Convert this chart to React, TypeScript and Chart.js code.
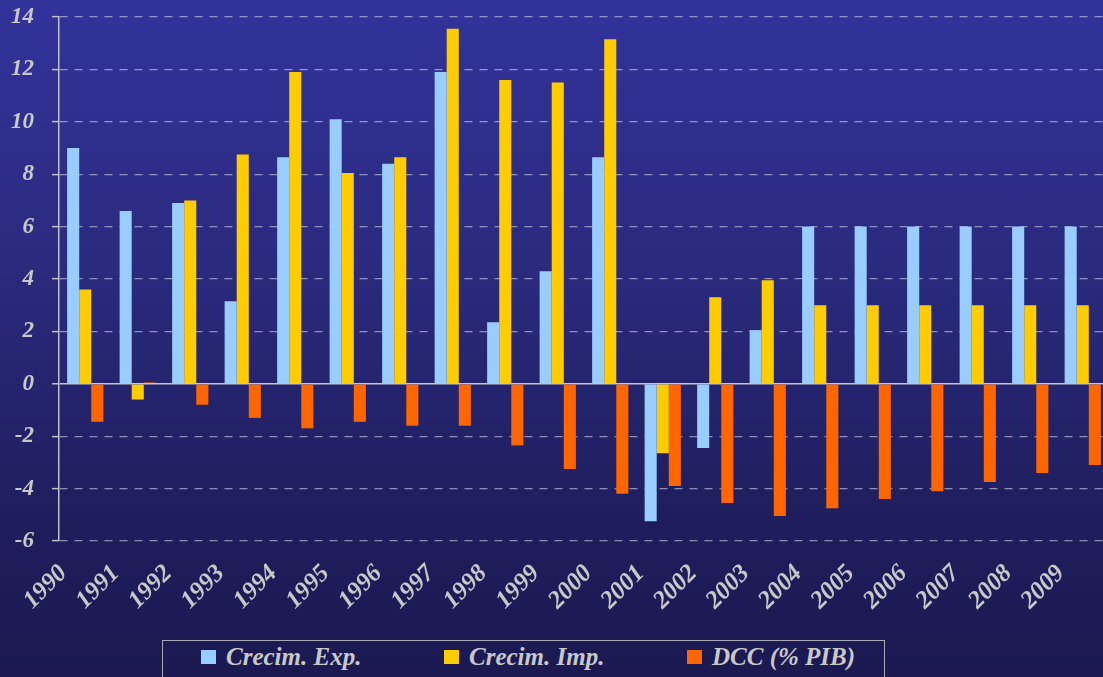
import React, { useEffect, useRef } from "react";
import { Chart, registerables } from "chart.js";

Chart.register(...registerables);

const years = ["1990", "1991", "1992", "1993", "1994", "1995", "1996", "1997", "1998", "1999", "2000", "2001", "2002", "2003", "2004", "2005", "2006", "2007", "2008", "2009"];
const crecimExp = [9.0, 6.6, 6.9, 3.15, 8.65, 10.1, 8.4, 11.9, 2.35, 4.3, 8.65, -5.25, -2.45, 2.05, 6.0, 6.0, 6.0, 6.0, 6.0, 6.0];
const crecimImp = [3.6, -0.6, 7.0, 8.75, 11.9, 8.05, 8.65, 13.55, 11.6, 11.5, 13.15, -2.65, 3.3, 3.95, 3.0, 3.0, 3.0, 3.0, 3.0, 3.0];
const dccPib = [-1.45, 0.05, -0.8, -1.3, -1.7, -1.45, -1.6, -1.6, -2.35, -3.25, -4.2, -3.9, -4.55, -5.05, -4.75, -4.4, -4.1, -3.75, -3.4, -3.1];
const seriesNames = ["Crecim. Exp.", "Crecim. Imp.", "DCC (% PIB)"];
const seriesColors = ["#99ccff", "#ffcc00", "#ff6600"];
const yMin = -6;
const yMax = 14;
const yStep = 2;

const FONT = "'Liberation Serif', 'DejaVu Serif', serif";
const TEXT = "#c8c8c8";

export default function App() {
  const canvasRef = useRef<HTMLCanvasElement | null>(null);

  useEffect(() => {
    document.body.style.margin = "0";
    const canvas = canvasRef.current;
    if (!canvas) return;
    const values = [crecimExp, crecimImp, dccPib];
    const chart = new Chart(canvas, {
      type: "bar",
      data: {
        labels: years,
        datasets: values.map((v, i) => ({
          label: seriesNames[i],
          data: v,
          backgroundColor: seriesColors[i],
          borderWidth: 0,
          categoryPercentage: 0.69,
          barPercentage: 1.0,
        })),
      },
      options: {
        animation: false,
        responsive: false,
        layout: { padding: { top: 17, right: 1, left: 0, bottom: 0 } },
        plugins: {
          legend: { display: false },
          tooltip: { enabled: false },
        },
        scales: {
          x: {
            grid: { display: false },
            border: { display: false },
            ticks: {
              color: TEXT,
              font: { family: FONT, size: 25, style: "italic", weight: "bold" },
              maxRotation: 45,
              minRotation: 45,
              autoSkip: false,
              labelOffset: -22,
              padding: 10,
            },
            afterFit: (s: any) => {
              s.height = 89;
              s.paddingTop = 0;
              s.paddingBottom = 0;
              s.paddingRight = 0;
            },
          },
          y: {
            min: yMin,
            max: yMax,
            ticks: {
              stepSize: yStep,
              color: TEXT,
              font: { family: FONT, size: 23, style: "italic", weight: "bold" },
              padding: 18,
            },
            grid: {
              color: (c: any) => (c.tick && c.tick.value === 0 ? "#c4c4d4" : "rgba(210,210,230,0.62)"),
              lineWidth: (c: any) => (c.tick && c.tick.value === 0 ? 1.5 : 1.2),
              tickLength: 7,
              tickColor: "#c0c0c8",
              tickWidth: 1.5,
            },
            border: {
              display: true,
              color: "#c0c0c8",
              width: 1.5,
              dash: (c: any) => (c.tick && c.tick.value !== 0 ? [8, 7] : []),
            },
            afterFit: (s: any) => {
              s.width = 59;
              s.paddingTop = 0;
              s.paddingBottom = 0;
            },
          },
        },
      },
    });
    return () => chart.destroy();
  }, []);

  return (
    <div
      style={{
        position: "relative",
        width: 1103,
        height: 677,
        overflow: "hidden",
        background: "linear-gradient(180deg, #32339b 0%, #2a2a7e 40%, #1f1e5e 75%, #1b1950 100%)",
      }}
    >
      <canvas ref={canvasRef} width={1110} height={630} style={{ display: "block" }} />
      <div
        style={{
          position: "absolute",
          left: 162,
          top: 640,
          width: 723,
          height: 60,
          border: "1px solid #a8a8b8",
          boxSizing: "border-box",
        }}
      >
        {seriesNames.map((n, i) => (
          <div
            key={n}
            style={{
              position: "absolute",
              left: 38 + i * 243,
              top: 2,
              display: "flex",
              alignItems: "center",
              whiteSpace: "nowrap",
              fontFamily: FONT,
              fontStyle: "italic",
              fontWeight: "bold",
              fontSize: 25,
              color: TEXT,
            }}
          >
            <span
              style={{
                display: "inline-block",
                width: 15,
                height: 14,
                background: seriesColors[i],
                marginRight: 10,
              }}
            />
            <span>{n}</span>
          </div>
        ))}
      </div>
    </div>
  );
}
